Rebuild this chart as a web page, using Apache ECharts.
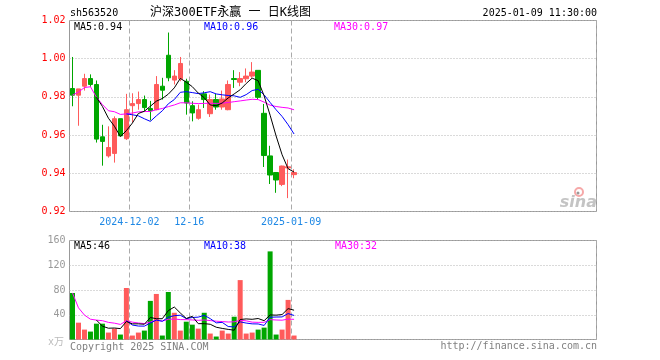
<!DOCTYPE html>
<html><head><meta charset="utf-8">
<script src="https://cdn.jsdelivr.net/npm/echarts/dist/echarts.min.js"></script>
<style>html,body{margin:0;padding:0;background:#fff}#c{width:660px;height:360px}</style>
</head><body><div id="c"></div>
<script>
// ---- data ----
const dates = ['2024-11-18','2024-11-19','2024-11-20','2024-11-21','2024-11-22',
  '2024-11-25','2024-11-26','2024-11-27','2024-11-28','2024-11-29',
  '2024-12-02','2024-12-03','2024-12-04','2024-12-05','2024-12-06',
  '2024-12-09','2024-12-10','2024-12-11','2024-12-12','2024-12-13',
  '2024-12-16','2024-12-17','2024-12-18','2024-12-19','2024-12-20',
  '2024-12-23','2024-12-24','2024-12-25','2024-12-26','2024-12-27',
  '2024-12-30','2024-12-31','2025-01-02','2025-01-03',
  '2025-01-06','2025-01-07','2025-01-08','2025-01-09'];
const open  = [0.9844,0.9809,0.9856,0.9896,0.9865,0.9591,0.9491,0.9504,0.9686,0.9581,0.9754,0.9765,0.9786,0.9739,0.9733,0.9856,1.0018,0.9888,0.9895,0.9882,0.9754,0.9688,0.9816,0.9712,0.9786,0.9747,0.9733,0.9896,0.9877,0.9895,0.9909,0.9939,0.9714,0.9491,0.9404,0.9342,0.9428,0.9393];
const close = [0.9809,0.9842,0.9896,0.9865,0.9579,0.9567,0.9535,0.9686,0.9596,0.9733,0.9765,0.9786,0.9744,0.9728,0.9865,0.9835,0.9900,0.9909,0.9975,0.9768,0.9716,0.9733,0.9786,0.9786,0.9747,0.9789,0.9865,0.9891,0.9896,0.9909,0.9930,0.9798,0.9493,0.9391,0.9365,0.9438,0.9434,0.9404];
const high  = [1.0009,0.9842,0.9921,0.9918,0.9886,0.9654,0.9646,0.9698,0.9686,0.9816,0.9819,0.9828,0.9807,0.9779,0.9909,0.9900,1.0137,0.9940,1.0009,0.9895,0.9777,0.9760,0.9830,0.9812,0.9816,0.9833,0.9886,0.9940,0.9930,0.9949,0.9982,0.9939,0.9763,0.9544,0.9404,0.9440,0.9472,0.9421];
const low   = [0.9751,0.9649,0.9833,0.9853,0.9561,0.9440,0.9482,0.9456,0.9596,0.9575,0.9667,0.9733,0.9726,0.9677,0.9730,0.9786,0.9882,0.9865,0.9882,0.9707,0.9672,0.9681,0.9742,0.9695,0.9733,0.9733,0.9730,0.9847,0.9856,0.9877,0.9900,0.9786,0.9433,0.9344,0.9298,0.9333,0.9270,0.9374];
const volume = [75.2,27.2,16,12.8,25.6,25.6,11.2,17.6,8,83.2,6.4,11.2,14.4,62.4,73.6,6.4,76.8,43.2,14.4,28.8,24,17.6,43.2,9.6,4.8,14.4,9.6,36.8,96,9.6,11.2,16,19.2,142.4,8,16,64,6.4];
const tickIndex = [10, 20, 37];
const tickText = ['2024-12-02', '12-16', '2025-01-09'];
const priceTicks = {min: 0.92, max: 1.02, step: 0.02};
const volTicks = {min: 0, max: 160, step: 40};
const maLegend = ['MA5:0.94', 'MA10:0.96', 'MA30:0.97'];
const volLegend = ['MA5:46', 'MA10:38', 'MA30:32'];
const header = {code: 'sh563520', title: '沪深300ETF永赢 一 日K线图', time: '2025-01-09 11:30:00'};
const totalSlots = 88;

// ---- derived ----
const RED = '#ff5b5b', GREEN = '#00a600';
const cats = [];
for (let i = 0; i < totalSlots; i++) cats.push(i < dates.length ? dates[i] : 'slot' + i);
function ma(arr, n, partial) {
  const out = [];
  for (let i = 0; i < arr.length; i++) {
    if (i < n - 1 && !partial) { out.push('-'); continue; }
    const s = Math.max(0, i - n + 1);
    let sum = 0; for (let j = s; j <= i; j++) sum += arr[j];
    out.push(+(sum / (i - s + 1)).toFixed(5));
  }
  return out;
}
const kData = dates.map((d, i) => [open[i], close[i], low[i], high[i]]);
const volData = volume.map((v, i) => ({value: v, itemStyle: {color: close[i] >= open[i] ? RED : GREEN}}));
const MONO = '"DejaVu Sans Mono", monospace';
const CJK = '"DejaVu Sans Mono", "Noto Sans CJK SC", sans-serif';

const vSplit = {show: true, interval: (i) => tickIndex.includes(i), lineStyle: {color: '#aaa', type: [5, 3], width: 1}};
const hSplit = {show: true, lineStyle: {color: '#b5b5b5', type: [1, 2], width: 1}};

function txt(text, x, y, color, align, size, family) {
  return {type: 'text', x: x, y: y, z: 100, silent: true,
    style: {text: text, fill: color, font: (size || 10) + 'px ' + (family || MONO),
      textAlign: align || 'left', textVerticalAlign: 'middle', align: align || 'left', verticalAlign: 'middle'}};
}

const chart = echarts.init(document.getElementById('c'), null, {renderer: 'canvas'});
chart.setOption({
  animation: false,
  backgroundColor: '#fff',
  grid: [
    {left: 69.5, top: 20.5, width: 527, height: 191, show: true, borderColor: '#999', borderWidth: 1},
    {left: 69.5, top: 240.5, width: 527, height: 99, show: true, borderColor: '#999', borderWidth: 1}
  ],
  xAxis: [
    {type: 'category', gridIndex: 0, data: cats, boundaryGap: true,
      axisLine: {show: false}, axisTick: {show: false},
      axisLabel: {interval: (i) => tickIndex.includes(i), formatter: (v, i) => tickText[tickIndex.indexOf(i)] || '',
        color: '#1e88e5', fontFamily: MONO, fontSize: 10, margin: 6, padding: [0, 6, 0, 0]},
      splitLine: vSplit},
    {type: 'category', gridIndex: 1, data: cats, boundaryGap: true,
      axisLine: {show: false}, axisTick: {show: false}, axisLabel: {show: false},
      splitLine: vSplit}
  ],
  yAxis: [
    {type: 'value', gridIndex: 0, min: priceTicks.min, max: priceTicks.max, interval: priceTicks.step,
      axisLine: {show: false}, axisTick: {show: false},
      axisLabel: {color: '#ff0000', fontFamily: MONO, fontSize: 10, margin: 4, formatter: (v) => v.toFixed(2)},
      splitLine: hSplit},
    {type: 'value', gridIndex: 1, min: volTicks.min, max: volTicks.max, interval: volTicks.step,
      axisLine: {show: false}, axisTick: {show: false},
      axisLabel: {color: '#999', fontFamily: MONO, fontSize: 10, margin: 4, formatter: (v) => v === 0 ? '' : String(v)},
      splitLine: hSplit}
  ],
  series: [
    {type: 'candlestick', xAxisIndex: 0, yAxisIndex: 0, data: kData, barWidth: 5,
      itemStyle: {color: RED, color0: GREEN, borderColor: RED, borderColor0: GREEN, borderWidth: 1}},
    {type: 'line', xAxisIndex: 0, yAxisIndex: 0, data: ma(close, 30, true), symbol: 'none', lineStyle: {color: '#ff00ff', width: 1}},
    {type: 'line', xAxisIndex: 0, yAxisIndex: 0, data: ma(close, 10, false), symbol: 'none', lineStyle: {color: '#0000ff', width: 1}},
    {type: 'line', xAxisIndex: 0, yAxisIndex: 0, data: ma(close, 5, false), symbol: 'none', lineStyle: {color: '#000', width: 1}},
    {type: 'bar', xAxisIndex: 1, yAxisIndex: 1, data: volData, barWidth: 5},
    {type: 'line', xAxisIndex: 1, yAxisIndex: 1, data: ma(volume, 30, true), symbol: 'none', lineStyle: {color: '#ff00ff', width: 1}},
    {type: 'line', xAxisIndex: 1, yAxisIndex: 1, data: ma(volume, 10, false), symbol: 'none', lineStyle: {color: '#0000ff', width: 1}},
    {type: 'line', xAxisIndex: 1, yAxisIndex: 1, data: ma(volume, 5, false), symbol: 'none', lineStyle: {color: '#000', width: 1}}
  ],
  graphic: [
    txt(header.code, 70, 13, '#000', 'left', 10),
    txt(header.title, 150, 13, '#000', 'left', 12, CJK),
    txt(header.time, 597, 13, '#000', 'right', 10),
    txt(maLegend[0], 74, 27, '#000'),
    txt(maLegend[1], 204, 27, '#0000ff'),
    txt(maLegend[2], 334, 27, '#ff00ff'),
    txt(volLegend[0], 74, 246, '#000'),
    txt(volLegend[1], 204, 246, '#0000ff'),
    txt(volLegend[2], 335, 246, '#ff00ff'),
    txt('x万', 64, 342, '#bbb', 'right', 10, CJK),
    txt('Copyright 2025 SINA.COM', 70, 347, '#808080'),
    txt('http://finance.sina.com.cn', 597, 346, '#808080', 'right'),
    {type: 'circle', shape: {cx: 579, cy: 192, r: 4}, z: 90, silent: true, style: {fill: 'none', stroke: '#f6a8a8', lineWidth: 2}},
    {type: 'circle', shape: {cx: 578, cy: 193, r: 1.5}, z: 90, silent: true, style: {fill: '#999'}},
    {type: 'text', x: 597, y: 203, z: 90, silent: true,
      style: {text: 'sina', fill: '#c4c4c4', font: 'italic bold 16px "DejaVu Sans", sans-serif',
        textAlign: 'right', align: 'right', textVerticalAlign: 'middle', verticalAlign: 'middle'}}
  ]
});
</script>
</body></html>
